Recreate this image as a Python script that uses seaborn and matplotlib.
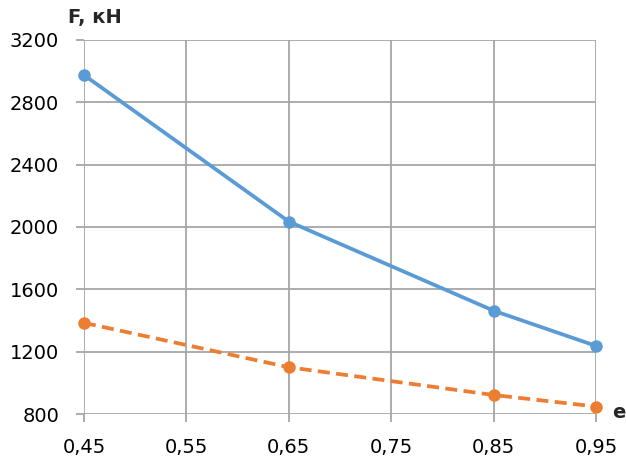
import matplotlib
matplotlib.use("Agg")
import matplotlib.pyplot as plt
import seaborn as sns
import pandas as pd
from matplotlib.ticker import FuncFormatter

e_values = [0.45, 0.65, 0.85, 0.95]
series_blue = [2975, 2035, 1463, 1237]
series_orange = [1385, 1100, 922, 848]
x_ticks = [0.45, 0.55, 0.65, 0.75, 0.85, 0.95]
y_ticks = [800, 1200, 1600, 2000, 2400, 2800, 3200]

sns.set_theme(style="white")
plt.rcParams['font.family'] = ['DejaVu Sans']

df_blue = pd.DataFrame({"e": e_values, "F": series_blue})
df_orange = pd.DataFrame({"e": e_values, "F": series_orange})

fig = plt.figure(figsize=(6.26, 4.62), dpi=100)
ax = fig.add_axes([84/626, 1-414/462, (596-84)/626, (414-40)/462])

grid_c = "#A6A6A6"
ax.set_xlim(0.45, 0.95)
ax.set_ylim(800, 3200)
ax.set_xticks(x_ticks)
ax.set_yticks(y_ticks)
ax.grid(True, color=grid_c, linewidth=1.3)
ax.set_axisbelow(True)
for s in ax.spines.values():
    s.set_visible(False)

sns.lineplot(data=df_blue, x="e", y="F", ax=ax, color="#5B9BD5", linewidth=2.7,
             marker="o", markersize=9, markeredgewidth=0, clip_on=False)
sns.lineplot(data=df_orange, x="e", y="F", ax=ax, color="#ED7D31", linewidth=2.7,
             marker="o", markersize=9, markeredgewidth=0, clip_on=False)
ax.lines[-1].set_dashes([3.2, 1.7])

ax.xaxis.set_major_formatter(FuncFormatter(lambda v, p: f"{v:.2f}".replace(".", ",")))
ax.yaxis.set_major_formatter(FuncFormatter(lambda v, p: f"{int(v)}"))
ax.tick_params(axis="both", which="both", length=6, width=1.3, color=grid_c,
               labelsize=14, labelcolor="black", left=True, bottom=True)
ax.tick_params(axis="y", pad=12)
ax.tick_params(axis="x", pad=11)
ax.set_xlabel("")
ax.set_ylabel("")

fig.text(68/626, 1-18/462, "F, кН", fontsize=14, fontweight="bold", ha="left", va="center")
fig.text(612/626, 1-413/462, "e", fontsize=14, fontweight="bold", ha="left", va="center")

fig.savefig("out.png", dpi=100, facecolor="white")
